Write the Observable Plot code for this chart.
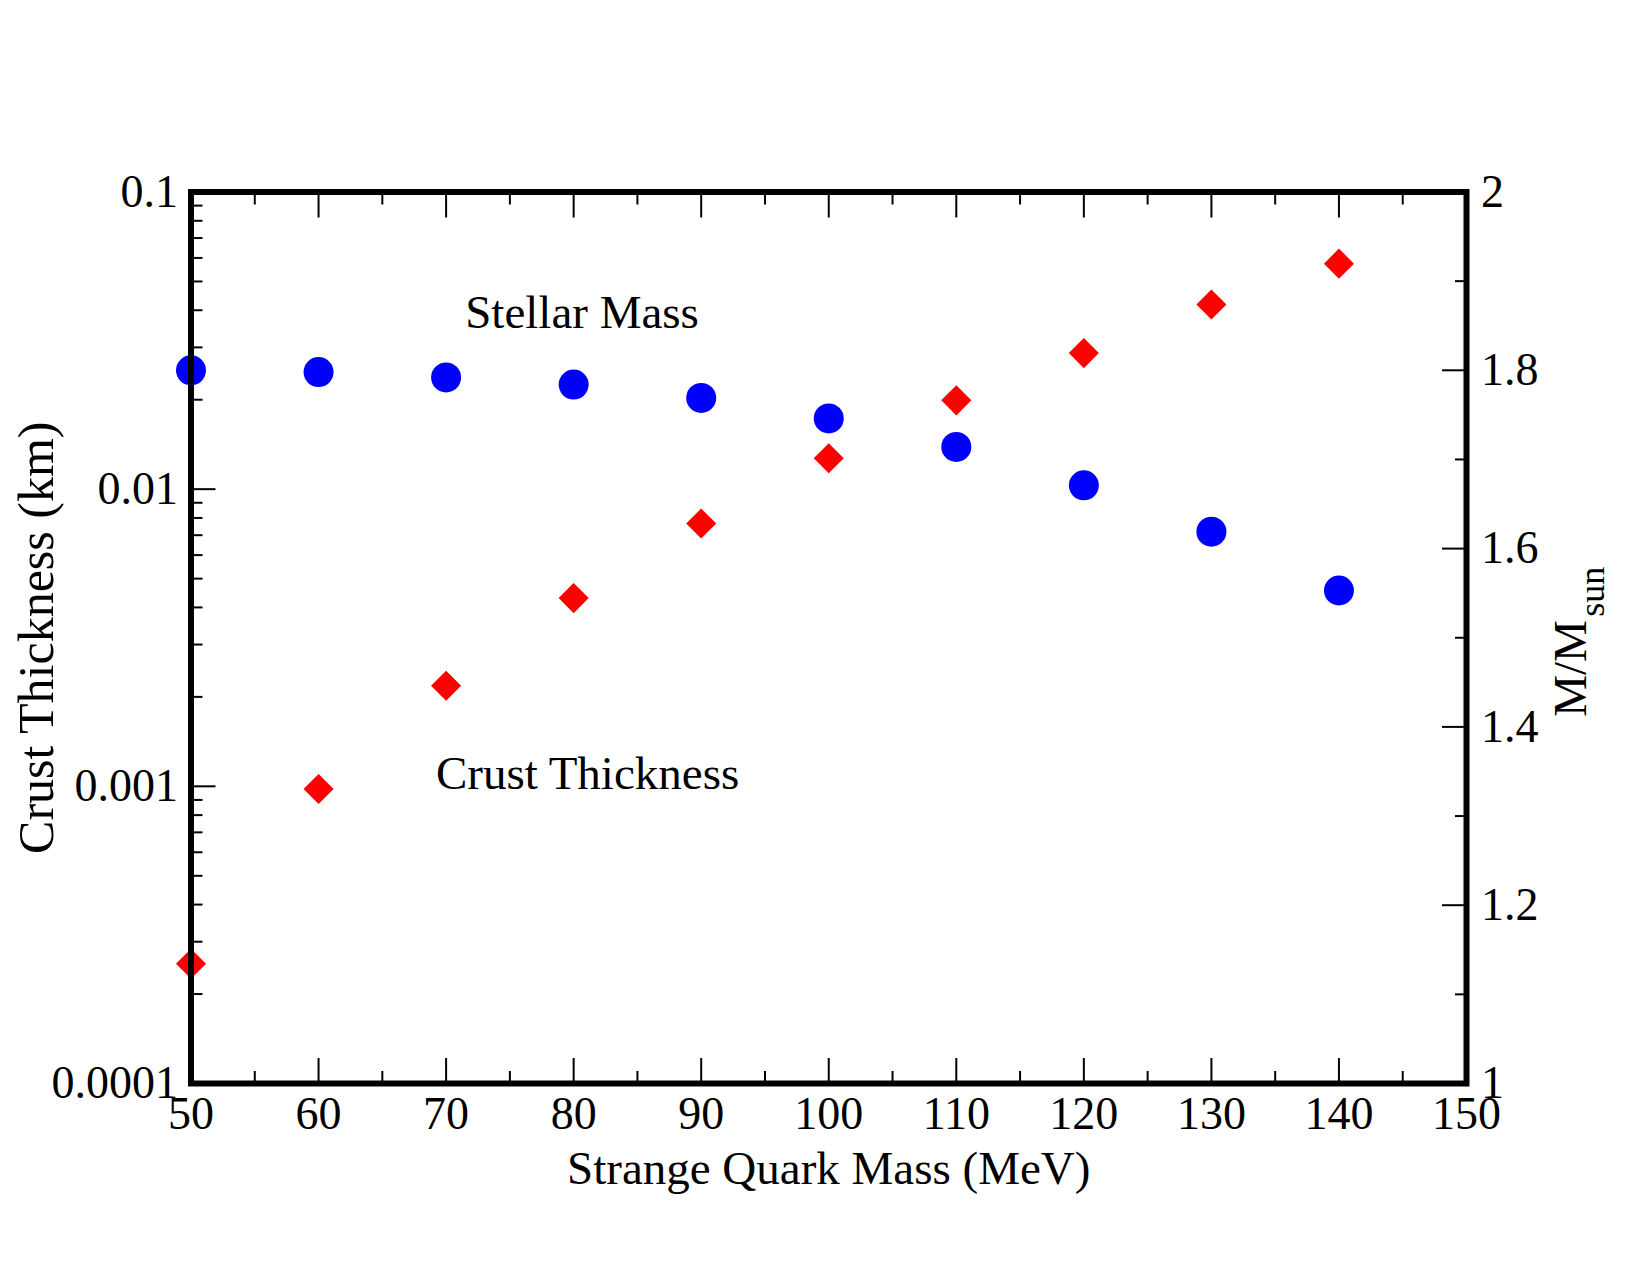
<!DOCTYPE html>
<html>
<head>
<meta charset="utf-8">
<script src="https://cdn.jsdelivr.net/npm/d3@7"></script>
<script src="https://cdn.jsdelivr.net/npm/@observablehq/plot@0.6"></script>
<style>
html, body { margin: 0; padding: 0; background: #fff; }
#chart svg { display: block; }
</style>
</head>
<body>
<div id="chart"></div>
<script>
// ---- Data ----
const strangeQuarkMass = [50, 60, 70, 80, 90, 100, 110, 120, 130, 140];
const stellarMass = [1.800, 1.798, 1.792, 1.784, 1.769, 1.746, 1.714, 1.671, 1.619, 1.553];
const crustThickness = [0.000253, 0.00098, 0.00218, 0.0043, 0.00766, 0.0127, 0.0199, 0.0287, 0.0418, 0.0574];

// ---- Ticks ----
const xMajorTicks = [50, 60, 70, 80, 90, 100, 110, 120, 130, 140, 150];
const xMajorLabels = ["50", "60", "70", "80", "90", "100", "110", "120", "130", "140", "150"];
const xMinorTicks = [55, 65, 75, 85, 95, 105, 115, 125, 135, 145];

const yMajorTicks = [0.0001, 0.001, 0.01, 0.1];
const yMajorLabels = ["0.0001", "0.001", "0.01", "0.1"];
const yMinorTicks = [
  0.0002, 0.0003, 0.0004, 0.0005, 0.0006, 0.0007, 0.0008, 0.0009,
  0.002, 0.003, 0.004, 0.005, 0.006, 0.007, 0.008, 0.009,
  0.02, 0.03, 0.04, 0.05, 0.06, 0.07, 0.08, 0.09
];

const massMajorTicks = [1, 1.2, 1.4, 1.6, 1.8, 2];
const massMajorLabels = ["1", "1.2", "1.4", "1.6", "1.8", "2"];
const massMinorTicks = [1.1, 1.3, 1.5, 1.7, 1.9];

// annotations (data coordinates)
const annotationText = ["Stellar Mass", "Crust Thickness"];
const annotationX = [71.5, 69.2];
const annotationY = [0.0393, 0.00110];

// Right axis (M/Msun, linear 1..2) mapped onto the left log scale (1e-4..1e-1)
const massToY = m => Math.pow(10, -4 + 3 * (m - 1));

const massPts = strangeQuarkMass.map((x, i) => ({x, m: stellarMass[i]}));
const crustPts = strangeQuarkMass.map((x, i) => ({x, c: crustThickness[i]}));
const annotations = annotationText.map((t, i) => ({t, x: annotationX[i], y: annotationY[i]}));
const massLabelRows = massMajorTicks.map((m, i) => ({m, label: massMajorLabels[i]}));

function nearestLabel(value, ticks, labels) {
  let best = 0;
  for (let i = 1; i < ticks.length; i++) {
    if (Math.abs(ticks[i] - value) < Math.abs(ticks[best] - value)) best = i;
  }
  return labels[best];
}

const FONT = 46;
const TW = 2;

const chart = Plot.plot({
  width: 1650,
  height: 1275,
  marginLeft: 190.5,
  marginRight: 184,
  marginTop: 191.5,
  marginBottom: 192,
  style: {fontFamily: "'Liberation Serif', 'Times New Roman', serif", fontSize: FONT + "px", background: "#fff", color: "black"},
  x: {domain: [50, 150]},
  y: {type: "log", domain: [0.0001, 0.1]},
  marks: [
    Plot.dot(massPts, {x: "x", y: d => massToY(d.m), r: 15, fill: "#0000ff", stroke: "none"}),
    Plot.dot(crustPts, {x: "x", y: "c", symbol: "square", rotate: 45, r: 12, fill: "#ff0000", stroke: "none"}),
    Plot.text(annotations, {x: "x", y: "y", text: "t", textAnchor: "start", lineAnchor: "middle", fontSize: 47, fill: "black"}),

    // inward ticks
    Plot.axisX({ticks: xMajorTicks, anchor: "bottom", tickSize: -25, fill: "none", strokeWidth: TW}),
    Plot.axisX({ticks: xMinorTicks, anchor: "bottom", tickSize: -12, fill: "none", strokeWidth: TW}),
    Plot.axisX({ticks: xMajorTicks, anchor: "top", tickSize: -25, fill: "none", strokeWidth: TW}),
    Plot.axisX({ticks: xMinorTicks, anchor: "top", tickSize: -12, fill: "none", strokeWidth: TW}),
    Plot.axisY({ticks: yMajorTicks, anchor: "left", tickSize: -25, fill: "none", strokeWidth: TW}),
    Plot.axisY({ticks: yMinorTicks, anchor: "left", tickSize: -12, fill: "none", strokeWidth: TW}),
    Plot.axisY({ticks: massMajorTicks.map(massToY), anchor: "right", tickSize: -25, fill: "none", strokeWidth: TW}),
    Plot.axisY({ticks: massMinorTicks.map(massToY), anchor: "right", tickSize: -12, fill: "none", strokeWidth: TW}),

    // tick labels
    Plot.axisX({ticks: xMajorTicks, anchor: "bottom", tickSize: 0, tickPadding: 13,
      tickFormat: d => nearestLabel(d, xMajorTicks, xMajorLabels), label: null, fontSize: FONT}),
    Plot.axisY({ticks: yMajorTicks, anchor: "left", tickSize: 0, tickPadding: 13,
      tickFormat: d => nearestLabel(Math.log10(d), yMajorTicks.map(Math.log10), yMajorLabels), label: null, fontSize: FONT}),
    // right axis labels (through the y scale)
    Plot.text(massLabelRows, {y: d => massToY(d.m), text: "label", frameAnchor: "right", textAnchor: "start", lineAnchor: "middle", dx: 14.5, fontSize: FONT, fill: "black"}),

    Plot.frame({stroke: "black", strokeWidth: 6}),

    // axis titles
    Plot.text(["Strange Quark Mass (MeV)"], {text: d => d, frameAnchor: "bottom", textAnchor: "middle", dy: 85, lineAnchor: "middle", fontSize: 47, fill: "black"}),
    Plot.text(["Crust Thickness (km)"], {text: d => d, frameAnchor: "left", textAnchor: "middle", rotate: -90, dx: -154.5, lineAnchor: "middle", fontSize: 50, fill: "black"}),
    Plot.text(["M/M"], {text: d => d, frameAnchor: "right", rotate: -90, textAnchor: "start", dx: 104, dy: 79, lineAnchor: "middle", fontSize: 47, fill: "black"}),
    Plot.text(["sun"], {text: d => d, frameAnchor: "right", rotate: -90, textAnchor: "start", dx: 126, dy: -21, lineAnchor: "middle", fontSize: 36, fill: "black"})
  ]
});

document.getElementById("chart").appendChild(chart);
</script>
</body>
</html>
